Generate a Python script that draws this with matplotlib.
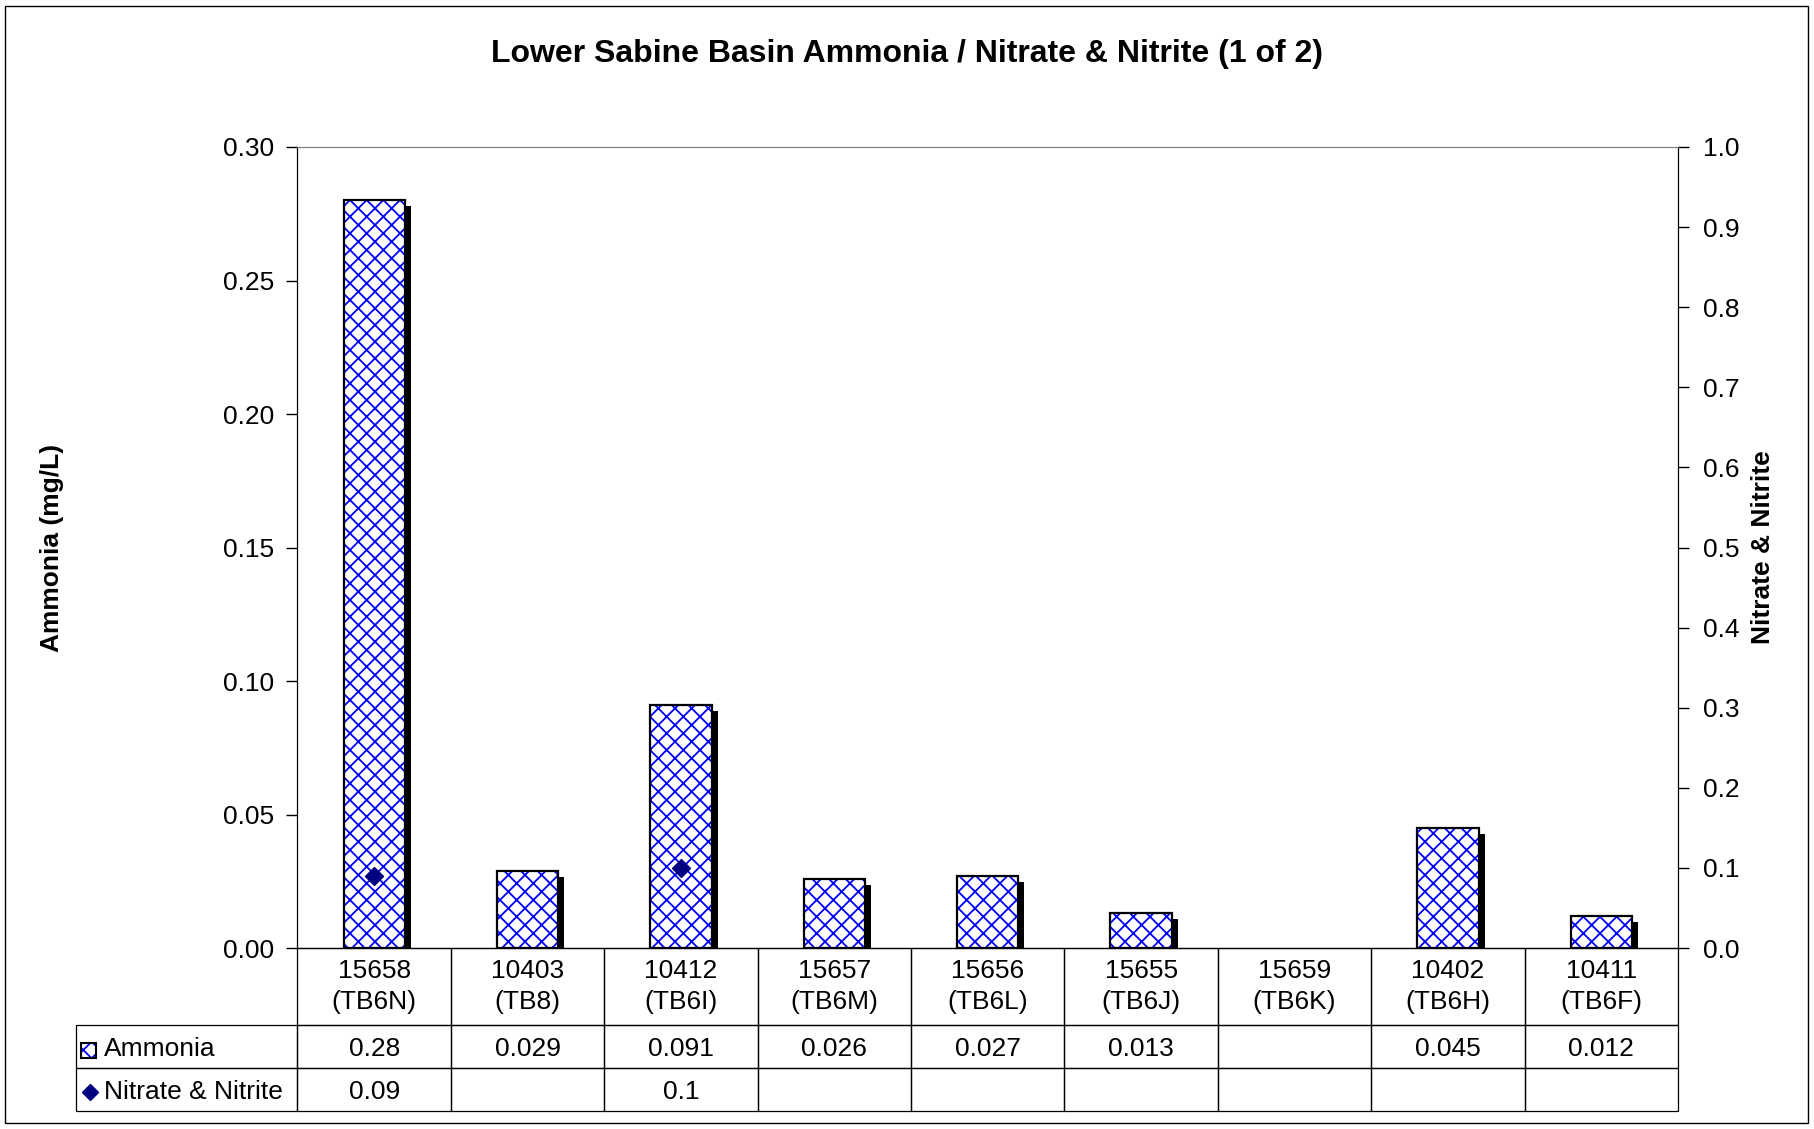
import numpy as np
import matplotlib.pyplot as plt
import matplotlib.transforms as mtransforms
from matplotlib.table import Table
from matplotlib.patches import Rectangle

plt.rcParams['font.family'] = ['Liberation Sans', 'DejaVu Sans']
plt.rcParams['hatch.linewidth'] = 1.3

# ---- data ----
sites = ["15658", "10403", "10412", "15657", "15656", "15655", "15659", "10402", "10411"]
codes = ["TB6N", "TB8", "TB6I", "TB6M", "TB6L", "TB6J", "TB6K", "TB6H", "TB6F"]
ammonia = [0.28, 0.029, 0.091, 0.026, 0.027, 0.013, np.nan, 0.045, 0.012]
nitrate = [0.09, np.nan, 0.1, np.nan, np.nan, np.nan, np.nan, np.nan, np.nan]
series_names = ["Ammonia", "Nitrate & Nitrite"]

BLUE = "#0000ff"
NAVY = "#000080"
FS = 19

W, H = 1815, 1129
fig = plt.figure(figsize=(W / 100, H / 100), dpi=100)
L, R, T, B = 297.5, 1678, 147, 948
AW, AH = R - L, B - T
ax = fig.add_axes([L / W, 1 - B / H, AW / W, AH / H])

x = np.arange(len(sites))
bw = 0.4
# drop shadow, hatched fill, black outline
shadow = ax.transData + mtransforms.ScaledTranslation(0.06, -0.06, fig.dpi_scale_trans)
ax.bar(x, ammonia, bw, color="black", lw=0, transform=shadow, zorder=1)
ax.bar(x, ammonia, bw, color="white", edgecolor=BLUE, hatch="xx", lw=0, zorder=2)
ax.bar(x, ammonia, bw, fill=False, edgecolor="black", lw=1.6, zorder=3)

ax.set_xlim(-0.5, len(sites) - 0.5)
ax.set_ylim(0, 0.30)
ax.set_yticks(np.arange(0, 0.301, 0.05))
ax.yaxis.set_major_formatter(plt.FormatStrFormatter("%.2f"))
ax.set_xticks([])
ax.tick_params(axis="y", direction="out", length=8, width=1, labelsize=FS, pad=9)
ax.set_ylabel("Ammonia (mg/L)", fontsize=FS, fontweight="bold")
ax.yaxis.set_label_coords((64 - L) / AW, 0.5)
ax.spines["top"].set_color("#808080")

ax2 = ax.twinx()
ax2.plot(x, nitrate, "D", color=NAVY, ms=9, zorder=5)
ax2.set_ylim(0, 1.0)
ax2.set_yticks(np.arange(0, 1.01, 0.1))
ax2.yaxis.set_major_formatter(plt.FormatStrFormatter("%.1f"))
ax2.tick_params(axis="y", direction="out", length=8, width=1, labelsize=FS, pad=10)
ax2.set_ylabel("Nitrate & Nitrite", fontsize=FS, fontweight="bold", rotation=90)
ax2.yaxis.set_label_coords((1751 - L) / AW, 0.5)
ax2.spines["top"].set_color("#808080")

# ---- data table under the plot (sizes in axes units) ----
lab_w, col_w = (L - 76) / AW, 1 / len(sites)
hdr_h, row_h = 77 / AH, 43 / AH
tb = Table(ax, bbox=[0, -(hdr_h + 2 * row_h), 1, hdr_h + 2 * row_h])
for j, (s, c) in enumerate(zip(sites, codes)):
    cell = tb.add_cell(0, j, col_w, hdr_h, text=f"{s}\n({c})", loc="center", facecolor="none")
    cell.get_text().set_linespacing(1.4)
for i, vals in enumerate([ammonia, nitrate], start=1):
    cell = tb.add_cell(i, -1, lab_w, row_h, text=series_names[i - 1], loc="left", facecolor="none")
    cell.PAD = 28 / (L - 76)
    cell.get_text().set_va("center_baseline")
    for j, v in enumerate(vals):
        cell = tb.add_cell(i, j, col_w, row_h, text="" if np.isnan(v) else f"{v:g}",
                           loc="center", facecolor="none")
        cell.get_text().set_va("center_baseline")
tb.auto_set_font_size(False)
tb.set_fontsize(FS)
for cell in tb.get_celld().values():
    cell.set_linewidth(0.9)
ax.add_table(tb)

# legend keys inside the table
kx, ky, ks = 89 / W, 1 - 1050 / H, 15
fig.add_artist(Rectangle((kx - ks / 2 / W, ky - ks / 2 / H), ks / W, ks / H, transform=fig.transFigure,
                         facecolor="white", edgecolor=BLUE, hatch="xx", lw=0))
fig.add_artist(Rectangle((kx - ks / 2 / W, ky - ks / 2 / H), ks / W, ks / H, transform=fig.transFigure,
                         fill=False, edgecolor="black", lw=1.5))
fig.add_artist(plt.Line2D([90 / W], [1 - 1091.5 / H], marker="D", color=NAVY, ms=8,
                          transform=fig.transFigure))

fig.text(0.5, 1 - 54 / H, "Lower Sabine Basin Ammonia / Nitrate & Nitrite (1 of 2)",
         ha="center", va="center", fontsize=23, fontweight="bold")
fig.add_artist(Rectangle((5 / W, 6 / H), (1808 - 5) / W, (1123 - 6) / H, transform=fig.transFigure,
                         fill=False, edgecolor="black", lw=1))

fig.savefig("out.png", dpi=100)
